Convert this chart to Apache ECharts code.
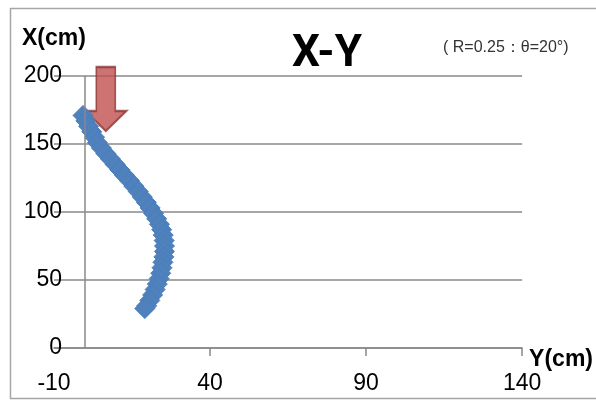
<!DOCTYPE html>
<html>
<head>
<meta charset="utf-8">
<script src="https://cdn.jsdelivr.net/npm/echarts@6/dist/echarts.min.js"></script>
<style>
  html, body { margin: 0; padding: 0; background: #fff; }
  #chart { width: 596px; height: 401px; }
</style>
</head>
<body>
<div id="chart"></div>
<script>
// Trajectory in the X-Y plane: X (vertical, cm) against Y (horizontal, cm)
const xValues = [171, 167, 163, 159, 155, 151, 147, 143, 139, 135, 131, 127, 123, 119, 115, 111,
                 107, 103, 99, 95, 91, 87, 83, 79, 75, 71, 67, 63, 59, 55, 51, 47, 43, 39, 35, 31, 29];
const yValues = [-0.7, 0.2, 1.1, 2.1, 3.0, 3.9, 5.2, 6.6, 8.1, 9.6, 11.1, 12.6, 14.2, 15.6, 17.0, 18.3,
                 19.6, 20.8, 21.9, 22.9, 23.8, 24.5, 25.0, 25.3, 25.4, 25.4, 25.2, 24.9, 24.6, 24.2, 23.7, 23.1, 22.4, 21.6, 20.7, 19.7, 19.1];

// Axis ranges
const yAxisRange = { min: -10, max: 140, interval: 50 };   // horizontal axis Y(cm)
const xAxisRange = { min: 0, max: 200, interval: 50 };     // vertical axis X(cm)
const horizTicks = [40, 90, 140];

// Starting point marker (arrow), in data coordinates [Y, X]
const arrowAt = [6.6, 183];

const titleText = 'X-Y';
const subText = '( R=0.25\uFF1A\u03B8=20\u00B0)';
const vertName = 'X(cm)';
const horizName = 'Y(cm)';

const points = xValues.map((x, i) => [yValues[i], x]);

const chart = echarts.init(document.getElementById('chart'), null, { renderer: 'canvas' });

const gridColor = '#888888';
const arrowPath = 'path://M11,0 L30,0 L30,44 L41,44 L20.5,64 L0,44 L11,44 Z';

chart.setOption({
  animation: false,
  backgroundColor: '#ffffff',
  graphic: [{
    type: 'rect',
    shape: { x: 10.5, y: 8.5, width: 620, height: 390 },
    style: { fill: 'none', stroke: '#a6a6a6', lineWidth: 1.5 },
    silent: true,
    z: -10
  }],
  title: [{
    text: titleText,
    left: 287,
    top: 28,
    textStyle: { fontFamily: 'Roboto', fontWeight: 'bold', fontSize: 44, color: '#000' }
  }, {
    text: subText,
    left: 438,
    top: 35,
    textStyle: { fontFamily: 'Liberation Sans', fontWeight: 'normal', fontSize: 16, color: '#333' }
  }, {
    // name of the vertical axis, centred over the axis start
    text: vertName,
    left: 22,
    top: 27,
    padding: 0,
    textStyle: { fontFamily: 'Liberation Sans', fontWeight: 'bold', fontSize: 23, color: '#000' }
  }],
  grid: { left: 54, right: 73, top: 76, bottom: 53, containLabel: false },
  xAxis: {
    type: 'value',
    min: yAxisRange.min,
    max: yAxisRange.max,
    interval: yAxisRange.interval,
    name: horizName,
    nameLocation: 'end',
    nameGap: 7,
    nameTextStyle: {
      fontFamily: 'Liberation Sans', fontWeight: 'bold', fontSize: 23, color: '#000',
      verticalAlign: 'top', lineHeight: 23
    },
    axisLine: { show: true, onZero: false, lineStyle: { color: gridColor, width: 1.5 } },
    axisTick: { show: true, length: 8, inside: false, customValues: horizTicks, lineStyle: { color: gridColor, width: 1.5 } },
    axisLabel: { margin: 24, fontFamily: 'Liberation Sans', fontSize: 23, color: '#000' },
    splitLine: { show: false }
  },
  yAxis: {
    type: 'value',
    min: xAxisRange.min,
    max: xAxisRange.max,
    interval: xAxisRange.interval,
    axisLine: { show: false },
    axisTick: { show: false },
    axisLabel: { margin: -8, fontFamily: 'Liberation Sans', fontSize: 23, color: '#000' },
    splitLine: { show: true, lineStyle: { color: gridColor, width: 1.5 } }
  },
  series: [{
    // vertical reference line at Y = 0
    type: 'line',
    data: [],
    silent: true,
    markLine: {
      silent: true,
      symbol: 'none',
      label: { show: false },
      lineStyle: { color: gridColor, width: 1.5, type: 'solid' },
      data: [{ xAxis: 0 }]
    },
    z: 1
  }, {
    // start arrow
    type: 'scatter',
    data: [arrowAt],
    symbol: arrowPath,
    symbolSize: [41, 64],
    itemStyle: { color: '#C0504D', borderColor: '#8C3836', borderWidth: 2 },
    silent: true,
    z: 2
  }, {
    type: 'scatter',
    data: points,
    symbol: 'diamond',
    symbolSize: [20, 20],
    itemStyle: { color: '#4F81BD', borderColor: '#4A7EBB', borderWidth: 1, opacity: 1 },
    z: 3
  }]
});
</script>
</body>
</html>
